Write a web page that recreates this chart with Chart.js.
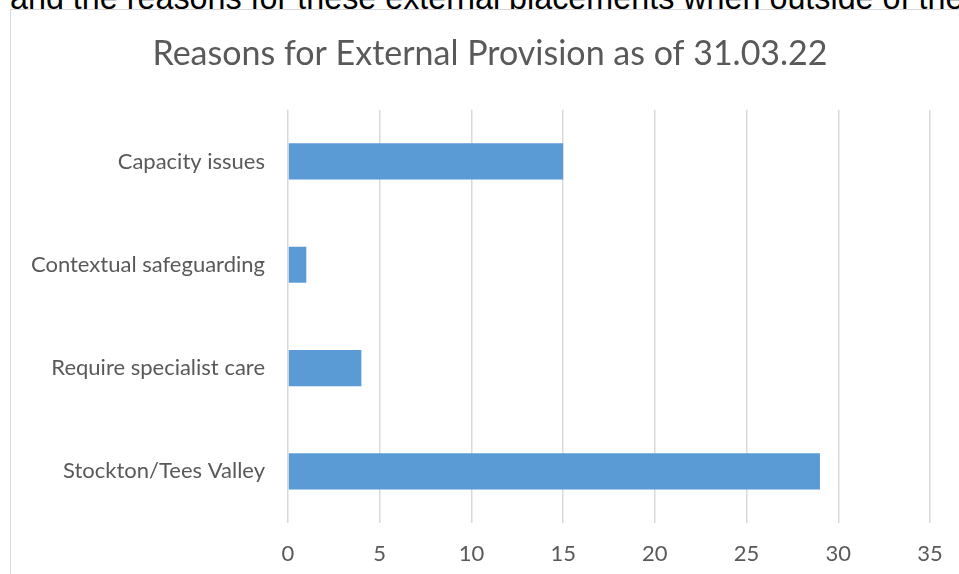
<!DOCTYPE html>
<html>
<head>
<meta charset="utf-8">
<script src="https://cdn.jsdelivr.net/npm/chart.js@4/dist/chart.umd.min.js"></script>
<style>
  html, body { margin: 0; padding: 0; background: #fff; overflow: hidden; }
  #wrap { position: relative; width: 959px; height: 574px; overflow: hidden; }
  #doctext { position: absolute; left: 10px; top: -18px; font-family: "Liberation Sans", Arial, sans-serif; font-size: 32.3px; line-height: 32px; color: #000; white-space: nowrap; }
  #frame { position: absolute; left: 10px; top: 9px; width: 1000px; height: 600px; border-left: 1px solid #d9d9d9; border-top: 1px solid #d9d9d9; background: #fff; }
  #c { position: absolute; left: 0; top: 0; }
</style>
</head>
<body>
<div id="wrap">
  <div id="doctext">and the reasons for these external placements when outside of the</div>
  <div id="frame"></div>
  <canvas id="c" width="980" height="574"></canvas>
</div>
<script>
const chartTitle = "Reasons for External Provision as of 31.03.22";
const categories = ["Capacity issues", "Contextual safeguarding", "Require specialist care", "Stockton/Tees Valley"];
const values = [15, 1, 4, 29];
const axisMin = 0;
const axisMax = 35;
const axisStep = 5;

const FONT = "Lato, 'Open Sans', sans-serif";
const GREY = "#595959";

new Chart(document.getElementById('c'), {
  type: 'bar',
  data: {
    labels: categories,
    datasets: [{
      data: values,
      backgroundColor: '#5b9bd5',
      borderWidth: 0,
      categoryPercentage: 0.35,
      barPercentage: 1.0
    }]
  },
  options: {
    indexAxis: 'y',
    responsive: false,
    animation: false,
    devicePixelRatio: 1,
    layout: { padding: { left: 0, right: 0, top: 0, bottom: 0 } },
    plugins: {
      legend: { display: false },
      tooltip: { enabled: false },
      title: {
        display: true,
        text: chartTitle,
        color: GREY,
        font: { family: FONT, size: 34, weight: 'normal' },
        lineHeight: 1.2,
        padding: { top: 34, bottom: 35 }
      }
    },
    scales: {
      x: {
        min: axisMin,
        max: axisMax,
        ticks: { stepSize: axisStep, color: GREY, font: { family: FONT, size: 22 }, padding: 18, maxRotation: 0 },
        grid: { color: '#d9d9d9', lineWidth: 1.5, drawTicks: false },
        border: { display: false },
        afterFit: (s) => { s.height = 51; }
      },
      y: {
        ticks: { color: GREY, font: { family: FONT, size: 22 }, padding: 23 },
        grid: { display: false, drawTicks: false },
        border: { display: false },
        afterFit: (s) => { s.width = 288; }
      },
      yRightSpace: {
        type: 'linear',
        position: 'right',
        display: true,
        ticks: { display: false },
        grid: { display: false, drawTicks: false },
        border: { display: false },
        afterFit: (s) => { s.width = 50; }
      }
    }
  }
});
</script>
</body>
</html>
